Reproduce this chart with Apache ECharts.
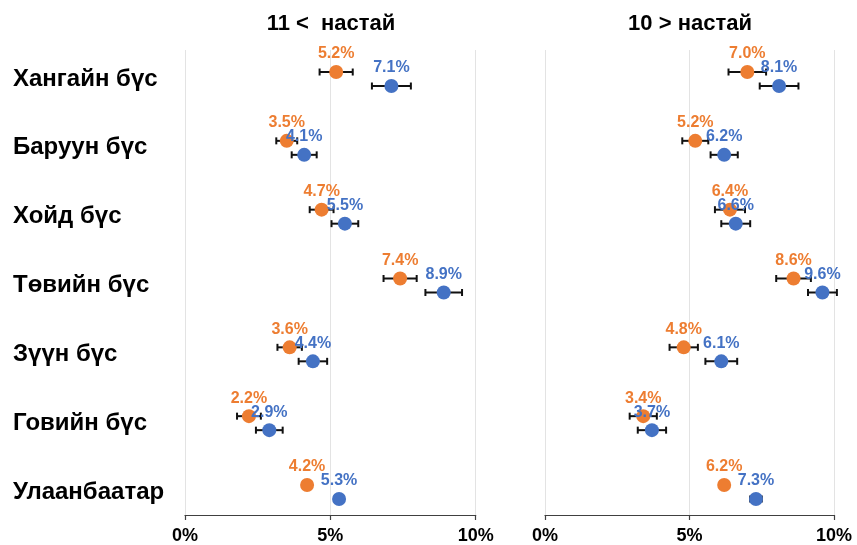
<!DOCTYPE html>
<html>
<head>
<meta charset="utf-8">
<script src="https://cdn.jsdelivr.net/npm/echarts@6/dist/echarts.min.js"></script>
<style>
  html, body { margin: 0; padding: 0; background: #fff; }
  #chart { width: 857px; height: 545px; }
</style>
</head>
<body>
<div id="chart"></div>
<script>
// Regions (top to bottom)
const regions = ['Хангайн бүс', 'Баруун бүс', 'Хойд бүс', 'Төвийн бүс', 'Зүүн бүс', 'Говийн бүс', 'Улаанбаатар'];
const panelTitles = ['11 <  настай', '10 > настай'];

// Panel 1: 11 < настай (percent)
const leftOrange = [5.2, 3.5, 4.7, 7.4, 3.6, 2.2, 4.2];
const leftOrangeErr = [0.57, 0.36, 0.41, 0.57, 0.42, 0.41, 0.08];
const leftBlue = [7.1, 4.1, 5.5, 8.9, 4.4, 2.9, 5.3];
const leftBlueErr = [0.67, 0.43, 0.46, 0.63, 0.49, 0.46, 0.15];

// Panel 2: 10 > настай (percent)
const rightOrange = [7.0, 5.2, 6.4, 8.6, 4.8, 3.4, 6.2];
const rightOrangeErr = [0.65, 0.45, 0.52, 0.60, 0.49, 0.47, 0.10];
const rightBlue = [8.1, 6.2, 6.6, 9.6, 6.1, 3.7, 7.3];
const rightBlueErr = [0.67, 0.47, 0.50, 0.50, 0.55, 0.49, 0.20];

const ORANGE = '#ED7D31';
const BLUE = '#4472C4';
const FONT = '"Liberation Sans", Arial, sans-serif';

const chart = echarts.init(document.getElementById('chart'), null, { renderer: 'canvas' });

// Panel geometry
const panels = [
  { left: 185, width: 290.7, center: 326 },
  { left: 545, width: 289, center: 685 }
];
const DATA_TOP = 44.6, DATA_BOTTOM = 18.6;   // category bands
const AXIS_TOP = 50, AXIS_BOTTOM = 30;       // frame with x axis and gridlines

const grids = [];
const xAxes = [];
const yAxes = [];
panels.forEach((p, i) => {
  // data grid
  grids.push({ left: p.left, width: p.width, top: DATA_TOP, bottom: DATA_BOTTOM, containLabel: false });
  // axis grid
  grids.push({ left: p.left, width: p.width, top: AXIS_TOP, bottom: AXIS_BOTTOM, containLabel: false });

  xAxes.push({
    gridIndex: 2 * i, type: 'value', min: 0, max: 10, show: false
  });
  xAxes.push({
    gridIndex: 2 * i + 1, type: 'value', min: 0, max: 10, interval: 5,
    axisLine: { show: true, lineStyle: { color: '#404040', width: 1.2 } },
    axisTick: { show: true, length: 5, lineStyle: { color: '#404040', width: 1.2 } },
    splitLine: { show: true, lineStyle: { color: '#e3e3e3', width: 1 } },
    axisLabel: {
      formatter: '{value}%', color: '#000', fontSize: 18, fontWeight: 'bold',
      fontFamily: FONT, margin: 12
    }
  });

  yAxes.push({
    gridIndex: 2 * i, type: 'category', data: regions, inverse: true, boundaryGap: true,
    axisLine: { show: false }, axisTick: { show: false }, splitLine: { show: false },
    axisLabel: i === 0 ? {
      show: true, align: 'left', margin: 172, color: '#000', fontSize: 24,
      fontWeight: 'bold', fontFamily: FONT
    } : { show: false }
  });
  yAxes.push({
    gridIndex: 2 * i + 1, type: 'value', min: 0, max: 1, show: false
  });
});

function errorBarSeries(values, errs, xAxisIndex, yAxisIndex, dy) {
  return {
    type: 'custom',
    xAxisIndex, yAxisIndex,
    z: 2,
    silent: true,
    encode: { x: [0, 1], y: 2 },
    data: values.map((v, k) => [v - errs[k], v + errs[k], k]),
    renderItem: function (params, api) {
      const k = api.value(2);
      const a = api.coord([api.value(0), k]);
      const b = api.coord([api.value(1), k]);
      const y = a[1] + dy;
      const h = 3.5;
      const st = { stroke: '#111', lineWidth: 2 };
      return {
        type: 'group',
        children: [
          { type: 'line', shape: { x1: a[0], y1: y, x2: b[0], y2: y }, style: st },
          { type: 'line', shape: { x1: a[0], y1: y - h, x2: a[0], y2: y + h }, style: st },
          { type: 'line', shape: { x1: b[0], y1: y - h, x2: b[0], y2: y + h }, style: st }
        ]
      };
    }
  };
}

function dotSeries(values, color, xAxisIndex, yAxisIndex, dy) {
  return {
    type: 'scatter',
    xAxisIndex, yAxisIndex,
    z: 3,
    symbol: 'circle',
    symbolSize: 14,
    symbolOffset: [0, dy],
    itemStyle: { color: color, opacity: 1 },
    label: {
      show: true, position: 'top', distance: 3,
      formatter: (p) => p.value[0].toFixed(1) + '%',
      color: color, fontSize: 16, fontWeight: 'bold', fontFamily: FONT
    },
    data: values.map((v, k) => [v, regions[k]])
  };
}

const OFF = 7;
const series = [
  errorBarSeries(leftOrange, leftOrangeErr, 0, 0, -OFF),
  dotSeries(leftOrange, ORANGE, 0, 0, -OFF),
  errorBarSeries(leftBlue, leftBlueErr, 0, 0, OFF),
  dotSeries(leftBlue, BLUE, 0, 0, OFF),
  errorBarSeries(rightOrange, rightOrangeErr, 2, 2, -OFF),
  dotSeries(rightOrange, ORANGE, 2, 2, -OFF),
  errorBarSeries(rightBlue, rightBlueErr, 2, 2, OFF),
  dotSeries(rightBlue, BLUE, 2, 2, OFF)
];

chart.setOption({
  animation: false,
  backgroundColor: '#fff',
  title: panelTitles.map((t, i) => ({
    text: t,
    left: panels[i].center,
    top: 8,
    textAlign: 'center',
    textStyle: { color: '#000', fontSize: 22, fontWeight: 'bold', fontFamily: FONT }
  })),
  grid: grids,
  xAxis: xAxes,
  yAxis: yAxes,
  series: series
});
</script>
</body>
</html>
